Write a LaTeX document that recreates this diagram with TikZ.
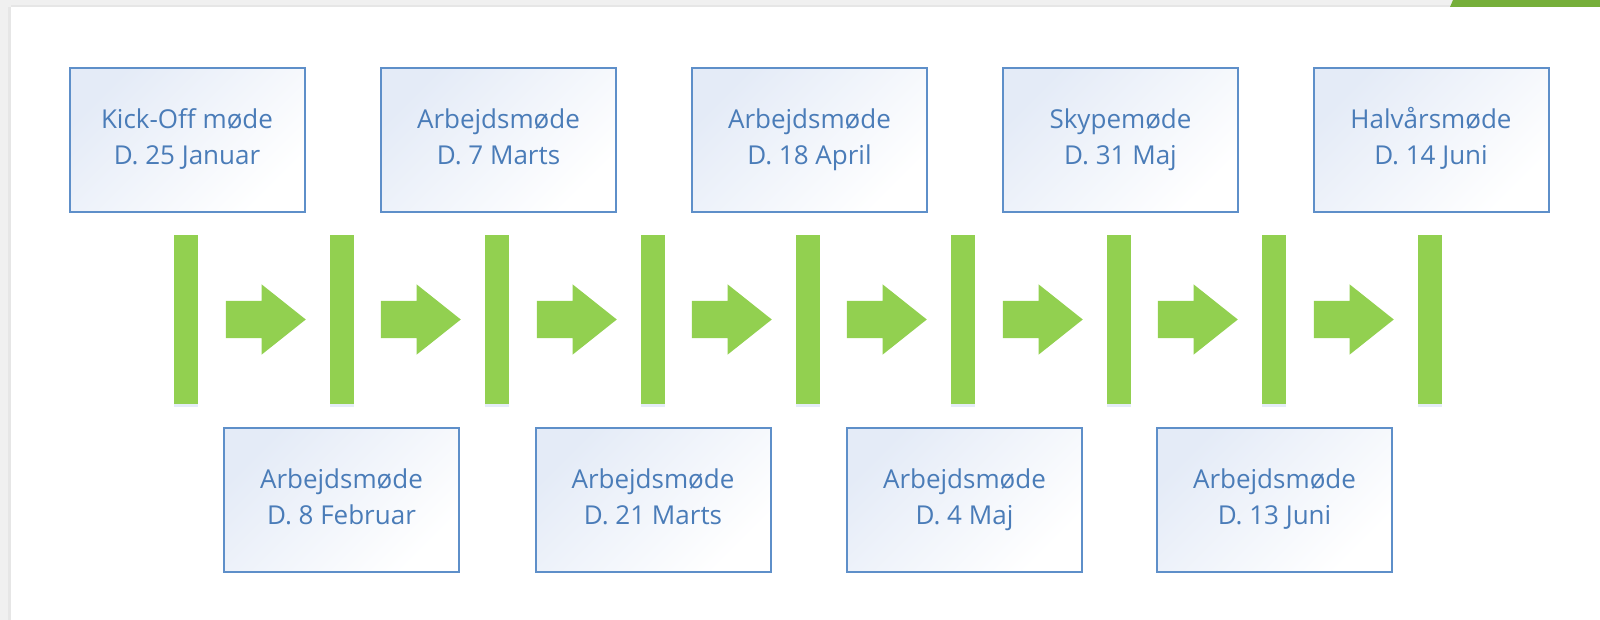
\documentclass[tikz,border=0pt]{standalone}
\usepackage{fontspec}
\setmainfont{Open Sans}
\usetikzlibrary{shapes.arrows}
\definecolor{stepgreen}{HTML}{92D050}
\definecolor{topgreen}{HTML}{76AF3A}
\definecolor{boxblue}{HTML}{4A7CB8}
\definecolor{boxline}{HTML}{5E8FC9}
\definecolor{boxtint}{HTML}{E4EBF7}
\definecolor{glowblue}{HTML}{E4ECF8}
\definecolor{framegray}{HTML}{F0F0F0}
\definecolor{edgegray}{HTML}{E6E6E6}

\begin{document}
\begin{tikzpicture}[x=1pt, y=-1pt,
  meeting/.style={draw=boxline, line width=2pt, top color=boxtint, bottom color=white,
    shading angle=45, minimum width=235pt, minimum height=144pt, inner sep=0pt, align=center,
    text=boxblue, text height=52pt, text depth=2pt, font=\fontsize{26}{36}\selectfont},
  milestone/.style={fill=stepgreen, minimum width=24pt, minimum height=169pt, inner sep=0pt,
    preaction={fill=glowblue, transform canvas={yshift=-3pt}}},
  advance/.style={single arrow, fill=stepgreen, inner sep=0pt, text height=18.5pt, text depth=18.5pt,
    minimum height=80pt, single arrow head extend=16.5pt, single arrow tip angle=77},
]
\useasboundingbox (0,0) rectangle (1600,620);

% ---------------------------------------------------------------- frame
\fill[white] (0,0) rectangle (1600,620);
\fill[framegray] (0,0) rectangle (1600,7);
\fill[edgegray] (0,5) rectangle (1600,7);
\fill[framegray] (0,0) rectangle (11,620);
\fill[edgegray] (8,7) rectangle (11,620);
\fill[topgreen] (1453,0) -- (1600,0) -- (1600,7) -- (1450,7) -- cycle;

% ---------------------------------------------------------------- milestones
\node[milestone] (b1) at (186,319.5) {};
\node[milestone] (b2) at (342,319.5) {};
\node[milestone] (b3) at (497,319.5) {};
\node[milestone] (b4) at (653,319.5) {};
\node[milestone] (b5) at (808,319.5) {};
\node[milestone] (b6) at (963,319.5) {};
\node[milestone] (b7) at (1119,319.5) {};
\node[milestone] (b8) at (1274,319.5) {};
\node[milestone] (b9) at (1430,319.5) {};

\node[advance] (a1) at (254,319.5) {};
\node[advance] (a2) at (409,319.5) {};
\node[advance] (a3) at (565,319.5) {};
\node[advance] (a4) at (720,319.5) {};
\node[advance] (a5) at (875,319.5) {};
\node[advance] (a6) at (1031,319.5) {};
\node[advance] (a7) at (1186,319.5) {};
\node[advance] (a8) at (1342,319.5) {};

% ---------------------------------------------------------------- meetings above
\node[meeting] (t1) at (187,140) {Kick-Off møde\\D. 25 Januar};
\node[meeting] (t2) at (498.5,140) {Arbejdsmøde\\D. 7 Marts};
\node[meeting] (t3) at (809.5,140) {Arbejdsmøde\\D. 18 April};
\node[meeting] (t4) at (1120.5,140) {Skypemøde\\D. 31 Maj};
\node[meeting] (t5) at (1431,140) {Halvårsmøde\\D. 14 Juni};

% ---------------------------------------------------------------- meetings below
\node[meeting] (u1) at (341.5,499.5) {Arbejdsmøde\\D. 8 Februar};
\node[meeting] (u2) at (653,499.5) {Arbejdsmøde\\D. 21 Marts};
\node[meeting] (u3) at (964.5,499.5) {Arbejdsmøde\\D. 4 Maj};
\node[meeting] (u4) at (1274.5,499.5) {Arbejdsmøde\\D. 13 Juni};
\end{tikzpicture}
\end{document}
